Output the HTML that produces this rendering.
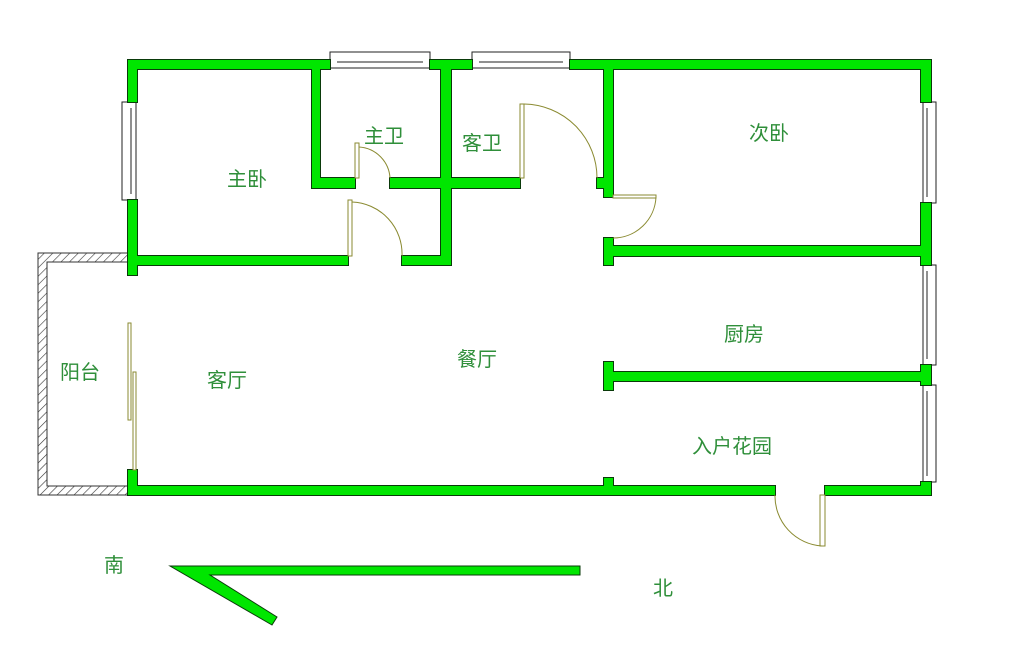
<!DOCTYPE html>
<html><head><meta charset="utf-8"><style>
html,body{margin:0;padding:0;background:#fff;}
svg{display:block}
text{font-family:"Liberation Sans","Noto Sans CJK SC",sans-serif;font-size:20px;fill:#2f8f3a;}
</style></head><body>
<svg width="1014" height="646" viewBox="0 0 1014 646" xmlns="http://www.w3.org/2000/svg">
<defs>
<pattern id="h" width="6" height="6" patternUnits="userSpaceOnUse" patternTransform="rotate(45)">
<rect width="6" height="6" fill="#fff"/><line x1="0" y1="0" x2="0" y2="6" stroke="#333" stroke-width="1.2"/>
</pattern>
<g id="w">
<rect x="128" y="60" width="202" height="9"/>
<rect x="430" y="60" width="42" height="9"/>
<rect x="570" y="60" width="361" height="9"/>
<rect x="128" y="60" width="9" height="42"/>
<rect x="128" y="200" width="9" height="75"/>
<rect x="128" y="470" width="9" height="25"/>
<rect x="921" y="60" width="10" height="42"/>
<rect x="921" y="203" width="10" height="62"/>
<rect x="921" y="365" width="10" height="20"/>
<rect x="921" y="482" width="10" height="13"/>
<rect x="128" y="486" width="647" height="9"/>
<rect x="825" y="486" width="106" height="9"/>
<rect x="604" y="478" width="9" height="10"/>
<rect x="137" y="256" width="211" height="9"/>
<rect x="402" y="256" width="49" height="9"/>
<rect x="312" y="69" width="8" height="119"/>
<rect x="312" y="178" width="43" height="10"/>
<rect x="390" y="178" width="130" height="10"/>
<rect x="441" y="69" width="10" height="196"/>
<rect x="604" y="69" width="9" height="128"/>
<rect x="597" y="178" width="10" height="10"/>
<rect x="604" y="238" width="9" height="27"/>
<rect x="604" y="246" width="327" height="10"/>
<rect x="604" y="362" width="9" height="28"/>
<rect x="604" y="372" width="327" height="9"/>
</g>
</defs>
<!-- balcony hatched -->
<path d="M38,253 H130 V262 H47 V486 H130 V495 H38 Z" fill="url(#h)" stroke="#333" stroke-width="1"/>
<!-- windows -->
<g fill="#fff" stroke="#222" stroke-width="1">
<rect x="330" y="52" width="100" height="16"/><rect x="472" y="52" width="98" height="16"/>
<rect x="122" y="102" width="14" height="98"/>
<rect x="923" y="102" width="13" height="101"/>
<rect x="923" y="265" width="13" height="100"/>
<rect x="923" y="385" width="13" height="97"/>
</g>
<g stroke="#222" stroke-width="1">
<line x1="337" y1="62" x2="423" y2="62"/><line x1="479" y1="62" x2="563" y2="62"/>
<line x1="131" y1="108" x2="131" y2="194"/><line x1="927" y1="108" x2="927" y2="197"/>
<line x1="927" y1="271" x2="927" y2="359"/><line x1="927" y1="391" x2="927" y2="476"/>
</g>
<!-- walls -->
<use href="#w" fill="#0a3a0a" stroke="#0a3a0a" stroke-width="2"/>
<use href="#w" fill="#00e600" stroke="none"/>
<g fill="none" stroke="#8a8a30" stroke-width="1">
<rect x="355" y="143" width="4" height="35" fill="#fff"/>
<path d="M359,147 A33,33 0 0 1 390,178"/>
<rect x="348" y="200" width="4" height="56" fill="#fff"/>
<path d="M352,202 A52,52 0 0 1 402,256"/>
<rect x="520" y="104" width="4" height="74" fill="#fff"/>
<path d="M524,104 A74,74 0 0 1 597,178"/>
<rect x="613" y="195" width="43" height="3" fill="#fff"/>
<path d="M656,197 A43,43 0 0 1 613,238"/>
<rect x="820" y="495" width="5" height="51" fill="#fff"/>
<path d="M775,495 A50,50 0 0 0 822,546"/>
<rect x="128" y="323" width="3" height="97" fill="#fff"/>
<rect x="133" y="372" width="3" height="98" fill="#fff"/>
</g>
<polygon points="170,566 580,566 580,575 210,575 277,617 272,625" fill="#00e600" stroke="#0a3a0a" stroke-width="1"/>
<text x="227" y="186">主卧</text>
<text x="364" y="143">主卫</text>
<text x="462" y="150">客卫</text>
<text x="749" y="140">次卧</text>
<text x="724" y="341">厨房</text>
<text x="457" y="366">餐厅</text>
<text x="207" y="387">客厅</text>
<text x="60" y="379">阳台</text>
<text x="692" y="453">入户花园</text>
<text x="104" y="572">南</text>
<text x="653" y="595">北</text>
</svg>
</body></html>
